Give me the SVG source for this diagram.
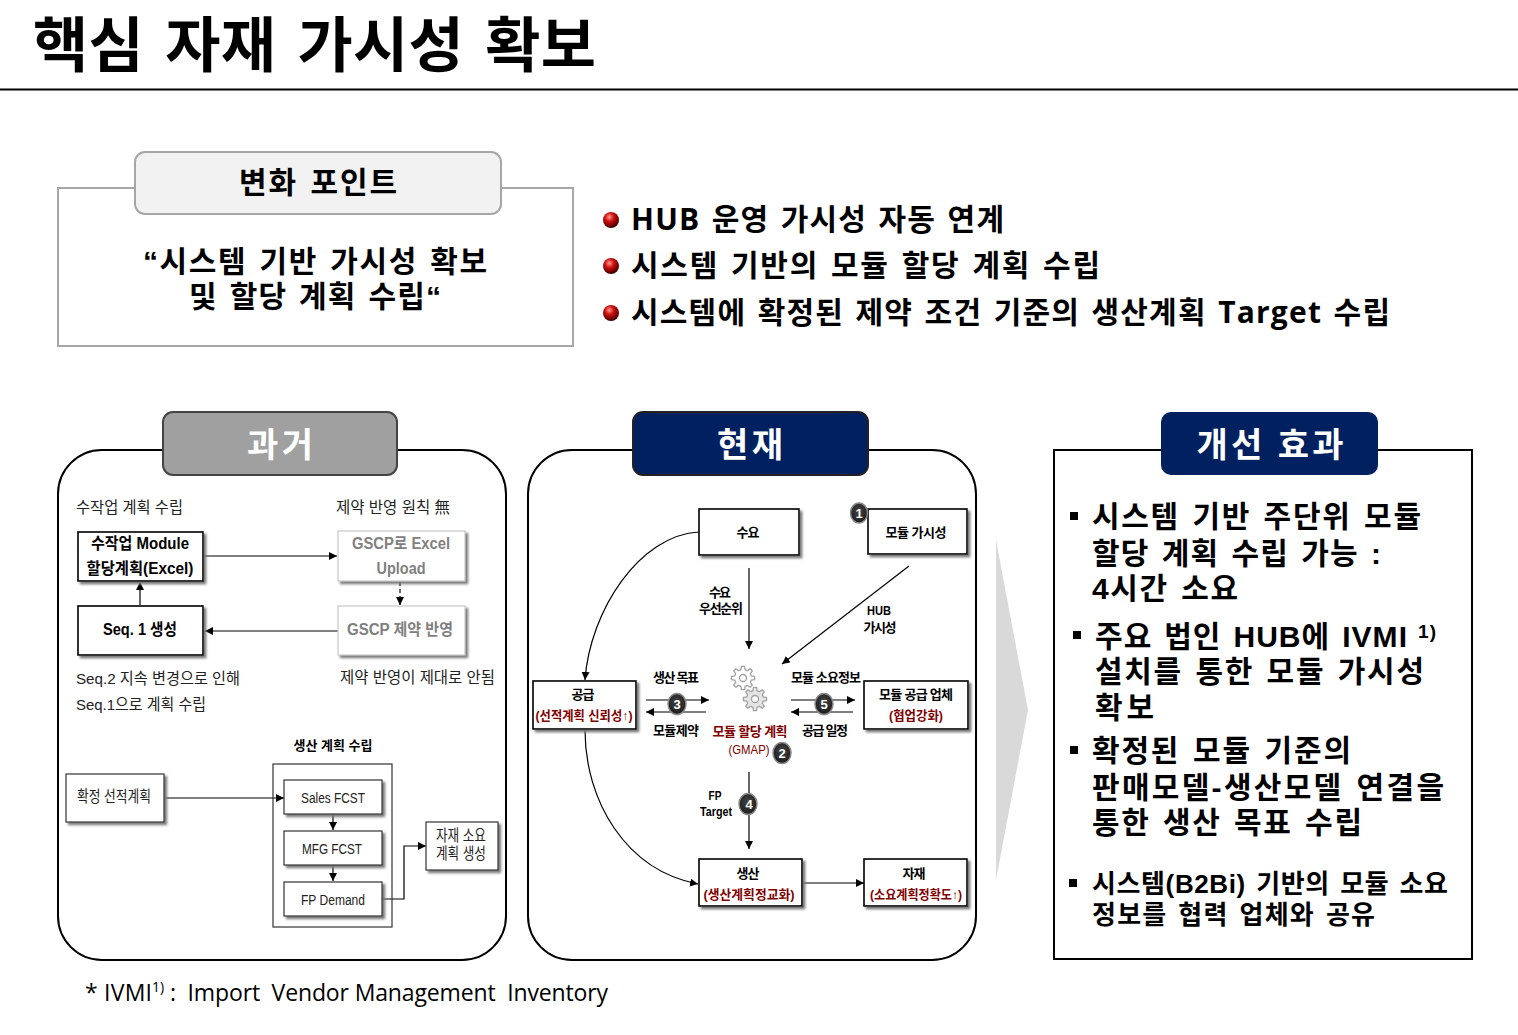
<svg xmlns="http://www.w3.org/2000/svg" width="1518" height="1035" viewBox="0 0 1518 1035">
<style>
text{font-family:"Open Sans","Noto Sans CJK KR",sans-serif;fill:#000}
.b{font-weight:700}
.m{text-anchor:middle}
.w{word-spacing:2.5px}
.k{font-family:"Liberation Sans","Noto Sans CJK KR",sans-serif;font-weight:700;word-spacing:2.5px}
.s{font-size:15.5px;font-family:"Liberation Sans","Noto Sans CJK KR",sans-serif;fill:#222}
.sm{font-size:13px;font-weight:700;font-family:"Liberation Sans","Noto Sans CJK KR",sans-serif}
.bx{font-size:16px}
.gr{fill:#808080}
.r{fill:#7f0000}
.wh{fill:#fff}
.n{fill:#fff;stroke:#000;stroke-width:1.6;filter:url(#sh)}
.g{fill:#fff;stroke:#c8c8c8;stroke-width:1.2;filter:url(#sh)}
.t{fill:#fff;stroke:#333;stroke-width:1.2;filter:url(#sh)}
.l{fill:none;stroke:#000;stroke-width:1.2}
.a{marker-end:url(#ar)}
.num{font-size:13px;font-weight:700;fill:#fff;text-anchor:middle;font-family:"Liberation Sans",sans-serif}
.c{fill:url(#badge);stroke:#8a8a8a;stroke-width:1.5}
.gear{stroke:#a0a0a0;stroke-width:1.4;stroke-linejoin:round}
</style>
<defs>
<filter id="sh" x="-10%" y="-10%" width="125%" height="125%"><feDropShadow dx="2.5" dy="2.5" stdDeviation="1" flood-color="#777"/></filter>
<marker id="ar" markerWidth="9" markerHeight="9" refX="8" refY="4" orient="auto" markerUnits="userSpaceOnUse"><path d="M0 0L8 4L0 8z" fill="#000"/></marker>
<radialGradient id="ball" cx="40%" cy="32%" r="68%"><stop offset="0" stop-color="#ff9a90"/><stop offset=".4" stop-color="#cf1212"/><stop offset=".8" stop-color="#700"/><stop offset="1" stop-color="#300"/></radialGradient>
<radialGradient id="badge" cx="50%" cy="40%" r="60%"><stop offset="0" stop-color="#444"/><stop offset="1" stop-color="#1c1c1c"/></radialGradient>
<polygon id="gearShape" points="9.22,-2.3 12.87,-1.81 12.87,1.81 9.22,2.3 8.14,4.89 10.38,7.82 7.82,10.38 4.89,8.14 2.3,9.22 1.81,12.87 -1.81,12.87 -2.3,9.22 -4.89,8.14 -7.82,10.38 -10.38,7.82 -8.14,4.89 -9.22,2.3 -12.87,1.81 -12.87,-1.81 -9.22,-2.3 -8.14,-4.89 -10.38,-7.82 -7.82,-10.38 -4.89,-8.14 -2.3,-9.22 -1.81,-12.87 1.81,-12.87 2.3,-9.22 4.89,-8.14 7.82,-10.38 10.38,-7.82 8.14,-4.89"/>
</defs>

<g id="title">
<text x="33" y="67" class="b" font-size="60" style="word-spacing:5px" textLength="563">핵심 자재 가시성 확보</text>
<path d="M0 89.5H1518" stroke="#000" stroke-width="2"/>
</g>

<g id="change-point">
<rect x="58" y="188" width="515" height="158" fill="#fff" stroke="#a6a6a6" stroke-width="2"/>
<rect x="135" y="152" width="366" height="62" rx="10" fill="#f2f2f2" stroke="#a6a6a6" stroke-width="2"/>
<text x="318" y="193" class="m k" font-size="30" textLength="158">변화 포인트</text>
<text x="315" y="272" class="m k" font-size="30" textLength="344">“시스템 기반 가시성 확보</text>
<text x="315" y="307" class="m k" font-size="30" textLength="252">및 할당 계획 수립“</text>
</g>

<g id="bullets">
<circle cx="611" cy="220" r="8" fill="url(#ball)"/>
<circle cx="611" cy="266" r="8" fill="url(#ball)"/>
<circle cx="611" cy="313" r="8" fill="url(#ball)"/>
<text x="631" y="230" class="b w" font-size="30" textLength="373">HUB 운영 가시성 자동 연계</text>
<text x="631" y="276" class="b w" font-size="30" textLength="469">시스템 기반의 모듈 할당 계획 수립</text>
<text x="631" y="323" class="b w" font-size="30" textLength="759">시스템에 확정된 제약 조건 기준의 생산계획 Target 수립</text>
</g>

<g id="past-panel">
<rect x="58" y="450" width="448" height="510" rx="44" fill="#fff" stroke="#000" stroke-width="2"/>
<rect x="163" y="412" width="234" height="63" rx="10" fill="#a0a0a0" stroke="#444" stroke-width="2"/>
<text x="280" y="457" class="m b wh" font-size="34" textLength="66">과거</text>
</g>
<g id="current-panel">
<rect x="528" y="450" width="448" height="510" rx="44" fill="#fff" stroke="#000" stroke-width="2"/>
<rect x="633" y="412" width="235" height="63" rx="10" fill="#002060" stroke="#222" stroke-width="2"/>
<text x="750" y="457" class="m b wh" font-size="34" textLength="66">현재</text>
</g>
<g id="effect-panel">
<rect x="1054" y="450" width="418" height="509" fill="#fff" stroke="#000" stroke-width="2"/>
<rect x="1161" y="412" width="217" height="63" rx="10" fill="#002060"/>
<text x="1270" y="457" class="m b wh" font-size="34" textLength="147">개선 효과</text>
</g>
<path id="arrow-shape" d="M996 540L1028 710L996 880z" fill="#d9d9d9"/>

<g id="connectors">
<path class="l a" d="M204 556H337"/>
<path class="l a" d="M140 605V582"/>
<path class="l a" d="M338 631H205"/>
<path class="l a" d="M400 582V605" stroke-dasharray="4 3"/>
<path class="l a" d="M165 798H284"/>
<path class="l a" d="M333 815V830"/>
<path class="l a" d="M333 866V881"/>
<path class="l a" d="M382 899H404V846H426"/>
<path class="l a" d="M699 532C640 535 590 610 585 680"/>
<path class="l a" d="M585 730C585 800 625 870 698 884"/>
<path class="l a" d="M749 568V649"/>
<path class="l a" d="M909 566L782 664"/>
<path class="l a" d="M646 700H709"/>
<path class="l a" d="M706 712H646"/>
<path class="l a" d="M791 700H855"/>
<path class="l a" d="M853 712H791"/>
<path class="l a" d="M749 772V849"/>
<path class="l a" d="M802 883H864"/>
</g>

<g id="past-labels">
<text x="76" y="513" class="s" lengthAdjust="spacingAndGlyphs" textLength="107">수작업 계획 수립</text>
<text x="336" y="513" class="s" lengthAdjust="spacingAndGlyphs" textLength="114">제약 반영 원칙 無</text>
<text x="76" y="684" class="s" lengthAdjust="spacingAndGlyphs" textLength="164">Seq.2 지속 변경으로 인해</text>
<text x="76" y="710" class="s" lengthAdjust="spacingAndGlyphs" textLength="130">Seq.1으로 계획 수립</text>
<text x="340" y="683" class="s" lengthAdjust="spacingAndGlyphs" textLength="155">제약 반영이 제대로 안됨</text>
<text x="333" y="750" class="m sm" lengthAdjust="spacingAndGlyphs" textLength="79">생산 계획 수립</text>
</g>
<g id="n-manual">
<rect class="n" x="78" y="532" width="125" height="49"/>
<text x="140" y="549" class="m sm bx" lengthAdjust="spacingAndGlyphs" textLength="98">수작업 Module</text>
<text x="140" y="574" class="m sm bx" lengthAdjust="spacingAndGlyphs" textLength="107">할당계획(Excel)</text>
</g>
<g id="n-seq1">
<rect class="n" x="78" y="606" width="125" height="49"/>
<text x="140" y="635" class="m sm bx" lengthAdjust="spacingAndGlyphs" textLength="74">Seq. 1 생성</text>
</g>
<g id="n-upload">
<rect class="g" x="338" y="531" width="127" height="50"/>
<text x="401" y="549" class="m sm bx gr" lengthAdjust="spacingAndGlyphs" textLength="98">GSCP로 Excel</text>
<text x="401" y="574" class="m sm bx gr" lengthAdjust="spacingAndGlyphs" textLength="49">Upload</text>
</g>
<g id="n-constraint">
<rect class="g" x="338" y="606" width="127" height="49"/>
<text x="400" y="635" class="m sm bx gr" lengthAdjust="spacingAndGlyphs" textLength="106">GSCP 제약 반영</text>
</g>
<g id="n-confirmed">
<rect class="t" x="66" y="774" width="98" height="48"/>
<text x="114" y="802" class="m s" lengthAdjust="spacingAndGlyphs" textLength="74">확정 선적계획</text>
</g>
<g id="n-plan-box"><rect x="273" y="764" width="119" height="163" fill="none" stroke="#333" stroke-width="1.2"/></g>
<g id="n-sales">
<rect class="t" x="284" y="780" width="98" height="34"/>
<text x="333" y="803" class="m s" lengthAdjust="spacingAndGlyphs" textLength="64">Sales FCST</text>
</g>
<g id="n-mfg">
<rect class="t" x="284" y="831" width="98" height="34"/>
<text x="332" y="854" class="m s" lengthAdjust="spacingAndGlyphs" textLength="60">MFG FCST</text>
</g>
<g id="n-fp">
<rect class="t" x="284" y="882" width="98" height="34"/>
<text x="333" y="905" class="m s" lengthAdjust="spacingAndGlyphs" textLength="64">FP Demand</text>
</g>
<g id="n-material-plan">
<rect class="t" x="426" y="822" width="72" height="48"/>
<text x="461" y="841" class="m s" lengthAdjust="spacingAndGlyphs" textLength="50">자재 소요</text>
<text x="461" y="859" class="m s" lengthAdjust="spacingAndGlyphs" textLength="50">계획 생성</text>
</g>

<g id="n-demand">
<rect class="n" x="699" y="509" width="100" height="46"/>
<text x="748" y="537" class="m sm" textLength="23">수요</text>
</g>
<g id="n-visibility">
<rect class="n" x="868" y="509" width="99" height="45"/>
<text x="916" y="537" class="m sm" textLength="61">모듈 가시성</text>
</g>
<g id="n-supply">
<rect class="n" x="533" y="681" width="103" height="48"/>
<text x="583" y="699" class="m sm" textLength="23">공급</text>
<text x="584" y="720" class="m sm r" lengthAdjust="spacingAndGlyphs" textLength="97">(선적계획 신뢰성↑)</text>
</g>
<g id="n-vendor">
<rect class="n" x="864" y="681" width="104" height="48"/>
<text x="916" y="699" class="m sm" textLength="74">모듈 공급 업체</text>
<text x="916" y="720" class="m sm r" lengthAdjust="spacingAndGlyphs" textLength="54">(협업강화)</text>
</g>
<g id="n-prod">
<rect class="n" x="699" y="859" width="103" height="47"/>
<text x="748" y="878" class="m sm" textLength="23">생산</text>
<text x="749" y="899" class="m sm r" lengthAdjust="spacingAndGlyphs" textLength="91">(생산계획정교화)</text>
</g>
<g id="n-material">
<rect class="n" x="864" y="859" width="103" height="47"/>
<text x="914" y="878" class="m sm" textLength="23">자재</text>
<text x="916" y="899" class="m sm r" lengthAdjust="spacingAndGlyphs" textLength="92">(소요계획정확도↑)</text>
</g>

<g id="n-gmap">
<use href="#gearShape" class="gear" fill="#fff" transform="translate(743 678) scale(.9)"/><circle cx="743" cy="678" r="3.5" fill="#fff" stroke="#a0a0a0" stroke-width="1.3"/>
<use href="#gearShape" class="gear" fill="#e4e4e4" transform="translate(755 699) scale(.9)"/><circle cx="755" cy="699" r="3.5" fill="#fff" stroke="#a0a0a0" stroke-width="1.3"/>
<text x="750" y="736" class="m sm r" textLength="75">모듈 할당 계획</text>
<text x="749" y="754" class="m r" style="font-size:13px;font-family:'Liberation Sans',sans-serif" lengthAdjust="spacingAndGlyphs" textLength="41">(GMAP)</text>
</g>

<g id="flow-labels">
<text x="720" y="597" class="m sm" textLength="22">수요</text>
<text x="721" y="613" class="m sm" textLength="44">우선순위</text>
<text x="879" y="615" class="m sm" lengthAdjust="spacingAndGlyphs" textLength="24">HUB</text>
<text x="880" y="632" class="m sm" textLength="33">가시성</text>
<text x="676" y="682" class="m sm" textLength="46">생산 목표</text>
<text x="826" y="682" class="m sm" textLength="70">모듈 소요정보</text>
<text x="676" y="735" class="m sm" textLength="46">모듈제약</text>
<text x="825" y="735" class="m sm" textLength="46">공급 일정</text>
<text x="715" y="800" class="m sm" lengthAdjust="spacingAndGlyphs" textLength="13">FP</text>
<text x="716" y="816" class="m sm" lengthAdjust="spacingAndGlyphs" textLength="32">Target</text>
</g>

<g id="badges">
<ellipse class="c" cx="859" cy="513" rx="8.5" ry="10"/><text x="859" y="518" class="num">1</text>
<ellipse class="c" cx="782" cy="753" rx="9" ry="10.5"/><text x="782" y="758" class="num">2</text>
<ellipse class="c" cx="677" cy="704" rx="9" ry="10.5"/><text x="677" y="709" class="num">3</text>
<ellipse class="c" cx="748" cy="804" rx="9" ry="10.5"/><text x="749" y="809" class="num">4</text>
<ellipse class="c" cx="824" cy="704" rx="9" ry="10.5"/><text x="824" y="709" class="num">5</text>
</g>

<g id="effects">
<rect x="1070" y="512" width="8" height="8"/>
<text x="1092" y="527" class="k" font-size="30" textLength="329">시스템 기반 주단위 모듈</text>
<text x="1092" y="564" class="k" font-size="30" textLength="289">할당 계획 수립 가능 :</text>
<text x="1092" y="599" class="k" font-size="30" textLength="146">4시간 소요</text>
<rect x="1073" y="631" width="8" height="8"/>
<text x="1095" y="647" class="k" font-size="30" textLength="312">주요 법인 HUB에 IVMI</text>
<text x="1418" y="638" class="k" font-size="19" textLength="18">1)</text>
<text x="1095" y="682" class="k" font-size="30" textLength="329">설치를 통한 모듈 가시성</text>
<text x="1095" y="718" class="k" font-size="30" textLength="59">확보</text>
<rect x="1070" y="746" width="8" height="8"/>
<text x="1092" y="761" class="k" font-size="30" textLength="259">확정된 모듈 기준의</text>
<text x="1092" y="798" class="k" font-size="30" textLength="352">판매모델-생산모델 연결을</text>
<text x="1092" y="833" class="k" font-size="30" textLength="270">통한 생산 목표 수립</text>
<rect x="1069" y="879" width="8" height="8"/>
<text x="1092" y="893" class="k" font-size="26" textLength="356">시스템(B2Bi) 기반의 모듈 소요</text>
<text x="1092" y="924" class="k" font-size="26" textLength="283">정보를 협력 업체와 공유</text>
</g>

<g id="footnote">
<text x="85" y="1001" font-size="23" style="white-space:pre" textLength="67">* IVMI</text>
<text x="152" y="992" font-size="14">1)</text>
<text x="170" y="1001" font-size="23" style="white-space:pre" textLength="438">:  Import  Vendor Management  Inventory</text>
</g>
</svg>
